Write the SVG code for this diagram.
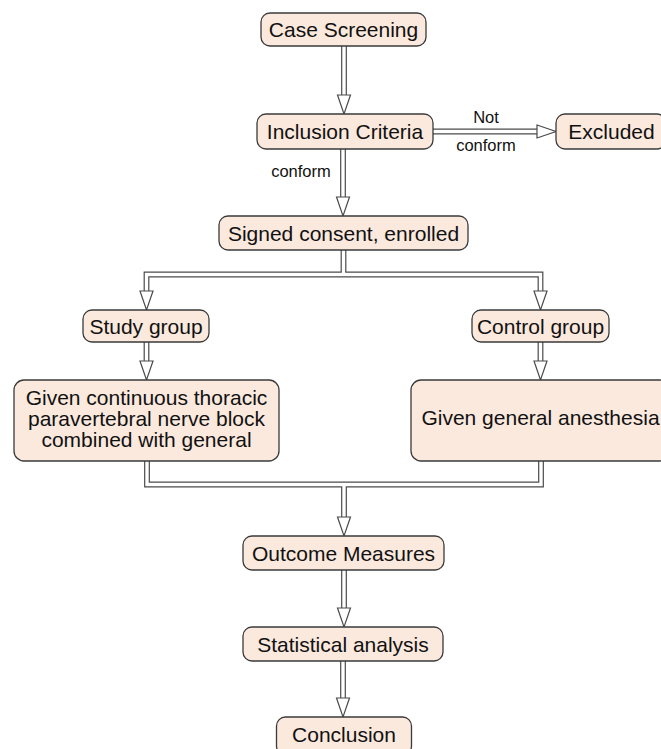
<svg xmlns="http://www.w3.org/2000/svg" width="661" height="749" viewBox="0 0 661 749">
<style>
.box{fill:#FBE9DE;stroke:#3a3a3a;stroke-width:1.3}
.t{font-family:"Liberation Sans",Arial,sans-serif;font-size:21px;fill:#111;text-anchor:middle}
.lb{font-family:"Liberation Sans",Arial,sans-serif;font-size:16.5px;fill:#111;text-anchor:middle}
.co{fill:none;stroke:#4a4a4a;stroke-width:5.8;stroke-linejoin:miter}
.ci{fill:none;stroke:#fff;stroke-width:3.4;stroke-linejoin:miter}
.ah{fill:#fff;stroke:#4a4a4a;stroke-width:1.2;stroke-linejoin:miter}
</style>
<rect width="661" height="749" fill="#fff"/>
<g id="connectors">
<g class="co">
<path d="M344 46V96"/>
<path d="M433 131.5H538"/>
<path d="M343 149V198"/>
<path d="M343.5 250V274.5"/>
<path d="M146.5 292V274.5H540.5V292"/>
<path d="M146.5 342V362"/>
<path d="M540.5 342V362"/>
<path d="M147 461V484.5H541V461"/>
<path d="M344 484.5V518"/>
<path d="M344 570V609"/>
<path d="M343 661V699"/>
</g>
<g class="ci">
<path d="M344 46V97"/>
<path d="M433 131.5H539"/>
<path d="M343 149V199"/>
<path d="M343.5 250V274.5"/>
<path d="M146.5 293V274.5H540.5V293"/>
<path d="M146.5 342V363"/>
<path d="M540.5 342V363"/>
<path d="M147 461V484.5H541V461"/>
<path d="M344 484.5V519"/>
<path d="M344 570V610"/>
<path d="M343 661V700"/>
</g>
<g class="ah">
<polygon points="337.5,95 350.5,95 344,114"/>
<polygon points="537,125 537,138 556,131.5"/>
<polygon points="336.5,197 349.5,197 343,216"/>
<polygon points="140,291 153,291 146.5,310"/>
<polygon points="534,291 547,291 540.5,310"/>
<polygon points="140,361 153,361 146.5,380"/>
<polygon points="534,361 547,361 540.5,380"/>
<polygon points="337.5,517 350.5,517 344,536"/>
<polygon points="337.5,608 350.5,608 344,627"/>
<polygon points="336.5,698 349.5,698 343,717"/>
</g>
<text class="lb" x="486" y="123">Not</text>
<text class="lb" x="486" y="151">conform</text>
<text class="lb" x="301" y="177">conform</text>
</g>
<g id="case-screening"><rect class="box" x="261" y="13" width="165" height="33" rx="9"/><text class="t" x="343.5" y="37">Case Screening</text></g>
<g id="inclusion-criteria"><rect class="box" x="257" y="114" width="176" height="35" rx="9"/><text class="t" x="345" y="139">Inclusion Criteria</text></g>
<g id="excluded"><rect class="box" x="556" y="114" width="110" height="35" rx="9"/><text class="t" x="611.5" y="139">Excluded</text></g>
<g id="signed-consent"><rect class="box" x="219" y="216" width="249" height="34" rx="9"/><text class="t" x="343.5" y="240.5">Signed consent, enrolled</text></g>
<g id="study-group"><rect class="box" x="83" y="310" width="126" height="32" rx="9"/><text class="t" x="146" y="333.5">Study group</text></g>
<g id="control-group"><rect class="box" x="472" y="310" width="137" height="32" rx="9"/><text class="t" x="540.5" y="333.5">Control group</text></g>
<g id="given-ctpvb"><rect class="box" x="14" y="380" width="265" height="81" rx="10"/><text class="t" x="146.5" y="405">Given continuous thoracic</text><text class="t" x="146.5" y="426">paravertebral nerve block</text><text class="t" x="146.5" y="447">combined with general</text></g>
<g id="given-ga"><rect class="box" x="411" y="380" width="259" height="81" rx="10"/><text class="t" x="540.5" y="425">Given general anesthesia</text></g>
<g id="outcome-measures"><rect class="box" x="243" y="536" width="201" height="34" rx="9"/><text class="t" x="343.5" y="560.5">Outcome Measures</text></g>
<g id="statistical-analysis"><rect class="box" x="243" y="627" width="200" height="34" rx="9"/><text class="t" x="343" y="651.5">Statistical analysis</text></g>
<g id="conclusion"><rect class="box" x="276.5" y="717" width="135" height="38" rx="9"/><text class="t" x="344" y="741.5">Conclusion</text></g>
</svg>
